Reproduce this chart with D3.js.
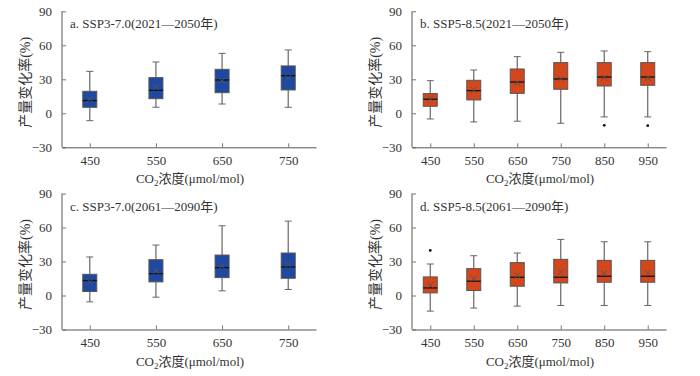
<!doctype html>
<html lang="zh">
<head>
<meta charset="utf-8">
<title>产量变化率箱线图</title>
<script src="https://d3js.org/d3.v7.min.js"></script>
<style>
  body { margin: 0; background: #fff; }
  svg text { font-family: "Liberation Serif", "Noto Sans CJK SC", serif; fill: #333; }
</style>
</head>
<body>
<svg id="chart" width="700" height="376"></svg>
<script>
// categories (CO2 concentration)
const co2Short = ["450", "550", "650", "750"];
const co2Long = ["450", "550", "650", "750", "850", "950"];
const yTicks = [-30, 0, 30, 60, 90];

// panel a: SSP3-7.0 2021-2050
const aLow  = [-6.5, 5.3, 8.2, 5.3];
const aQ1   = [5.3, 12.9, 18.2, 20.6];
const aMed  = [11.2, 20.3, 29.4, 33.2];
const aQ3   = [19.4, 31.5, 38.8, 41.8];
const aHigh = [37, 45.3, 52.9, 55.9];
const aMean = [12.6, 23, 28.5, 31.2];

// panel b: SSP5-8.5 2021-2050
const bLow  = [-5, -7.6, -7, -8.8, -3.2, -3.2];
const bQ1   = [6.2, 11.8, 17.6, 21.2, 24.1, 24.7];
const bMed  = [12.4, 20, 27.6, 30.3, 32, 32];
const bQ3   = [17.4, 29.1, 39.1, 44.7, 44.7, 44.7];
const bHigh = [28.8, 38.2, 50, 53.8, 55, 54.4];
const bMean = [13, 20.6, 27, 30.6, 31.5, 31.2];
const bOut  = [[], [], [], [], [-10.6], [-10.9]];

// panel c: SSP3-7.0 2061-2090
const cLow  = [-5.6, -1.5, 4.1, 5.3];
const cQ1   = [3.5, 12, 15.8, 15.2];
const cMed  = [13.2, 19.3, 24.6, 25.2];
const cQ3   = [18.7, 31.6, 35.7, 37.5];
const cHigh = [34, 44.5, 61.5, 65.6];
const cMean = [12, 21.7, 26, 27.5];

// panel d: SSP5-8.5 2061-2090
const dLow  = [-13.8, -11.1, -9.4, -8.8, -8.8, -8.8];
const dQ1   = [2.3, 4.4, 8.2, 11.1, 11.7, 11.7];
const dMed  = [6.7, 12.6, 16.1, 16.1, 17, 17];
const dQ3   = [16.4, 23.7, 29, 31.9, 31, 31];
const dHigh = [27.8, 35.1, 37.5, 49.5, 47.4, 47.4];
const dMean = [9.1, 14.9, 17.6, 20.5, 19.9, 19.9];
const dOut  = [[39.8], [], [], [], [], []];

const blue = "#1f49a0", orange = "#d4471d";

const panels = [
  {title: "a. SSP3-7.0(2021—2050年)", cats: co2Short, low: aLow, q1: aQ1, med: aMed, q3: aQ3, high: aHigh, mean: aMean, out: null, color: blue, x0: 62, top: 11.3},
  {title: "b. SSP5-8.5(2021—2050年)", cats: co2Long, low: bLow, q1: bQ1, med: bMed, q3: bQ3, high: bHigh, mean: bMean, out: bOut, color: orange, x0: 412, top: 11.3},
  {title: "c. SSP3-7.0(2061—2090年)", cats: co2Short, low: cLow, q1: cQ1, med: cMed, q3: cQ3, high: cHigh, mean: cMean, out: null, color: blue, x0: 62, top: 193.5},
  {title: "d. SSP5-8.5(2061—2090年)", cats: co2Long, low: dLow, q1: dQ1, med: dMed, q3: dQ3, high: dHigh, mean: dMean, out: dOut, color: orange, x0: 412, top: 193.5}
];

const svg = d3.select("#chart");
const W = 254, H = 136, boxW = 14, capW = 7;

panels.forEach(p => {
  const g = svg.append("g").attr("transform", `translate(${p.x0},${p.top})`);
  const x = d3.scalePoint().domain(p.cats).range([0, W]).padding(0.42);
  const y = d3.scaleLinear().domain([-30, 90]).range([H, 0]);

  // axes
  const yAxis = g.append("g").call(d3.axisLeft(y).tickValues(yTicks).tickSize(-4).tickPadding(10)
    .tickFormat(d => d < 0 ? "−" + Math.abs(d) : d));
  const xAxis = g.append("g").attr("transform", `translate(0,${H})`)
    .call(d3.axisBottom(x).tickSize(-4).tickPadding(8).tickSizeOuter(0));
  [yAxis, xAxis].forEach(a => {
    a.select(".domain").attr("stroke", "#555");
    a.selectAll(".tick line").attr("stroke", "#777");
    a.selectAll("text").attr("font-size", 13).attr("fill", "#333");
  });
  yAxis.select(".domain").attr("d", `M0,0V${H}`);

  const idx = d3.range(p.cats.length);
  const bx = g.selectAll("g.box").data(idx).join("g").attr("class", "box")
    .attr("transform", i => `translate(${x(p.cats[i])},0)`);

  // whiskers
  bx.append("line").attr("y1", i => y(p.high[i])).attr("y2", i => y(p.q3[i]))
    .attr("stroke", "#666").attr("stroke-width", 1.2);
  bx.append("line").attr("y1", i => y(p.q1[i])).attr("y2", i => y(p.low[i]))
    .attr("stroke", "#666").attr("stroke-width", 1.2);
  bx.append("line").attr("x1", -capW / 2).attr("x2", capW / 2)
    .attr("y1", i => y(p.high[i])).attr("y2", i => y(p.high[i])).attr("stroke", "#666");
  bx.append("line").attr("x1", -capW / 2).attr("x2", capW / 2)
    .attr("y1", i => y(p.low[i])).attr("y2", i => y(p.low[i])).attr("stroke", "#666");

  // boxes
  bx.append("rect").attr("x", -boxW / 2).attr("width", boxW)
    .attr("y", i => y(p.q3[i])).attr("height", i => y(p.q1[i]) - y(p.q3[i]))
    .attr("fill", p.color).attr("stroke", "#555").attr("stroke-width", 1);
  bx.append("line").attr("x1", -boxW / 2).attr("x2", boxW / 2)
    .attr("y1", i => y(p.med[i])).attr("y2", i => y(p.med[i]))
    .attr("stroke", "#111").attr("stroke-width", 1.3);

  // mean marker
  bx.append("path")
    .attr("d", i => { const m = y(p.mean[i]); return `M-3,${m - 3}L3,${m + 3}M-3,${m + 3}L3,${m - 3}`; })
    .attr("stroke", "#555").attr("stroke-width", 1).attr("fill", "none");

  // outliers
  if (p.out) {
    bx.selectAll("circle").data(i => p.out[i]).join("circle")
      .attr("cx", 0).attr("cy", d => y(d)).attr("r", 1.4).attr("fill", "#111");
  }

  // panel title
  g.append("text").attr("x", 8).attr("y", 17).attr("font-size", 13).attr("fill", "#333").text(p.title);

  // y-axis title
  g.append("text").attr("transform", `translate(-32,${H / 2 + 3}) rotate(-90)`)
    .attr("text-anchor", "middle").attr("font-size", 14).attr("fill", "#444").text("产量变化率(%)");

  // x-axis title
  const xt = g.append("text").attr("x", W / 2 + 1).attr("y", H + 36)
    .attr("text-anchor", "middle").attr("font-size", 13).attr("fill", "#333");
  xt.append("tspan").text("CO");
  xt.append("tspan").attr("font-size", 9).attr("dy", 3).text("2");
  xt.append("tspan").attr("dy", -3).text("浓度(μmol/mol)");
});
</script>
</body>
</html>
